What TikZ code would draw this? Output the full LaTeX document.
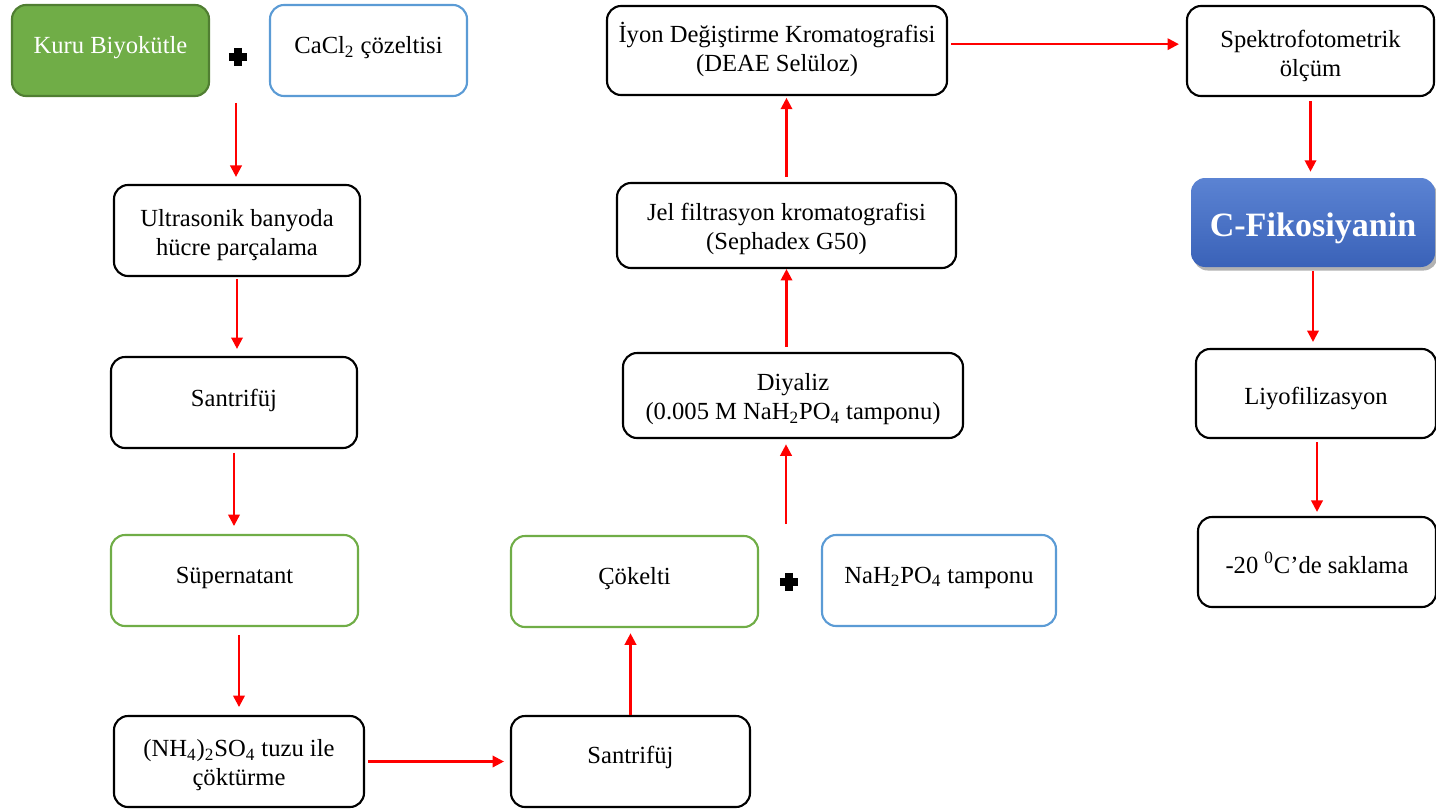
\documentclass[tikz,border=0pt]{standalone}
\usepackage{fontspec}
\setmainfont{Liberation Serif}
\usetikzlibrary{arrows.meta,shadows,calc}
\definecolor{gfill}{HTML}{70AD47}
\definecolor{gdark}{HTML}{507E32}
\definecolor{bline}{HTML}{5B9BD5}
\definecolor{ctop}{HTML}{5B83D3}
\definecolor{cbot}{HTML}{3A62B8}
\newcommand{\tshift}[2]{\raisebox{#1}[\height][\depth]{#2}}
\newcommand{\twol}[2]{\begin{tabular}{@{}c@{}}#1\\#2\end{tabular}}
\begin{document}
\begin{tikzpicture}[x=0.02cm,y=-0.02cm,
  base/.style={rounded corners=8pt, line width=1.2pt, align=center,
    font=\fontsize{14}{16.6}\selectfont, inner sep=0pt},
  blk/.style={base, draw=black},
  grn/.style={base, draw=gfill},
  blu/.style={base, draw=bline},
  sz/.style 2 args={minimum width=#1*0.02cm, minimum height=#2*0.02cm},
  arr/.style={draw=red, line width=1.3pt, -{Triangle[width=6.5pt,length=6.5pt]}},
  plusmark/.style={inner sep=0pt, minimum size=10pt},
  plusbar/.style={line width=4.2pt, black}
]
\useasboundingbox (0,0) rectangle (1436,811);

% nodes
\node[base, sz={197}{91}, fill=gfill, draw=gdark, text=white] (K) at (110.5,50.5) {\tshift{1.7pt}{Kuru Biyokütle}};
\node[blu, sz={197}{91}] (Ca) at (368.5,50.5) {\tshift{1.7pt}{CaCl\textsubscript{2} çözeltisi}};
\node[blk, sz={246}{91}] (U) at (237,230.5) {\tshift{-2.8pt}{\twol{Ultrasonik banyoda}{hücre parçalama}}};
\node[blk, sz={246}{91}] (S1) at (234,402.5) {\tshift{1.2pt}{Santrifüj}};
\node[grn, sz={247}{91}] (Sp) at (234.5,580.5) {\tshift{1.2pt}{Süpernatant}};
\node[blk, sz={250}{91}] (N) at (239,761.5) {\tshift{-2pt}{\twol{(NH\textsubscript{4})\textsubscript{2}SO\textsubscript{4} tuzu ile}{çöktürme}}};
\node[blk, sz={239}{91}] (S2) at (630.5,761.5) {\tshift{2.3pt}{Santrifüj}};
\node[grn, sz={247}{91}] (Co) at (634.5,581.5) {\tshift{1.7pt}{Çökelti}};
\node[blu, sz={234}{91}] (Na) at (939,580.5) {\tshift{1.7pt}{NaH\textsubscript{2}PO\textsubscript{4} tamponu}};
\node[blk, sz={340}{85}] (D) at (793,395.5) {\tshift{-2.3pt}{\twol{Diyaliz}{(0.005 M NaH\textsubscript{2}PO\textsubscript{4} tamponu)}}};
\node[blk, sz={339}{85}] (J) at (786.5,225.5) {\tshift{-2pt}{\twol{Jel filtrasyon kromatografisi}{(Sephadex G50)}}};
\node[blk, sz={340}{89}] (I) at (777,50.5) {\tshift{-0.6pt}{\twol{İyon Değiştirme Kromatografisi}{(DEAE Selüloz)}}};
\node[blk, sz={247}{90}] (Sk) at (1310.5,51) {\tshift{-3pt}{\twol{Spektrofotometrik}{ölçüm}}};
\node[base, sz={244}{89}, draw=none, top color=ctop, bottom color=cbot, text=white,
  drop shadow={shadow xshift=1.5pt, shadow yshift=-2pt, opacity=0.3, fill=black},
  font=\fontsize{19.4}{22}\selectfont\bfseries] (C) at (1313,222.5) {\tshift{-3.4pt}{C-Fikosiyanin}};
\node[blk, sz={240}{89}] (L) at (1316,393.5) {\tshift{-2.8pt}{Liyofilizasyon}};
\node[blk, sz={238}{90}] (T) at (1317,562) {\tshift{-0.5pt}{-20 \textsuperscript{0}C’de saklama}};

% plus signs
\node[plusmark] (p1) at (238,57) {};
\node[plusmark] (p2) at (789,582) {};
\draw[plusbar] (p1.west) -- (p1.east) (p1.north) -- (p1.south);
\draw[plusbar] (p2.west) -- (p2.east) (p2.north) -- (p2.south);

% arrows
\coordinate (a1) at (236,103);
\coordinate (a7) at (786,524);
\draw[arr, shorten >=4pt] (a1) -- (a1 |- U.north);
\draw[arr, shorten <=1pt, shorten >=4pt] (U.south) -- (U.south |- S1.north);
\draw[arr, shorten <=2pt, shorten >=4.5pt] (S1.south) -- (S1.south |- Sp.north);
\draw[arr, shorten <=4.5pt, shorten >=4.5pt] (Sp.south -| N.north) -- (N.north);
\draw[arr, shorten <=1.7pt, shorten >=3.4pt] (N.east) -- (N.east -| S2.west);
\draw[arr, shorten >=3pt] (S2.north) -- (S2.north |- Co.south);
\draw[arr, shorten >=3pt] (a7) -- (a7 |- D.south);
\draw[arr, shorten <=3pt] (D.north -| J.south) -- (J.south);
\draw[arr, shorten <=3pt, shorten >=1pt] (J.north) -- (J.north |- I.south);
\draw[arr, shorten <=1.7pt, shorten >=4pt] ([yshift=3.6pt]I.east) -- ([yshift=3.6pt]I.east -| Sk.west);
\draw[arr, shorten <=2.3pt, shorten >=3pt] (Sk.south) -- (Sk.south |- C.north);
\draw[arr, shorten <=1.7pt, shorten >=3.4pt] (C.south) -- (C.south |- L.north);
\draw[arr, shorten <=1.7pt, shorten >=2.3pt] (L.south -| T.north) -- (T.north);
\end{tikzpicture}
\end{document}
